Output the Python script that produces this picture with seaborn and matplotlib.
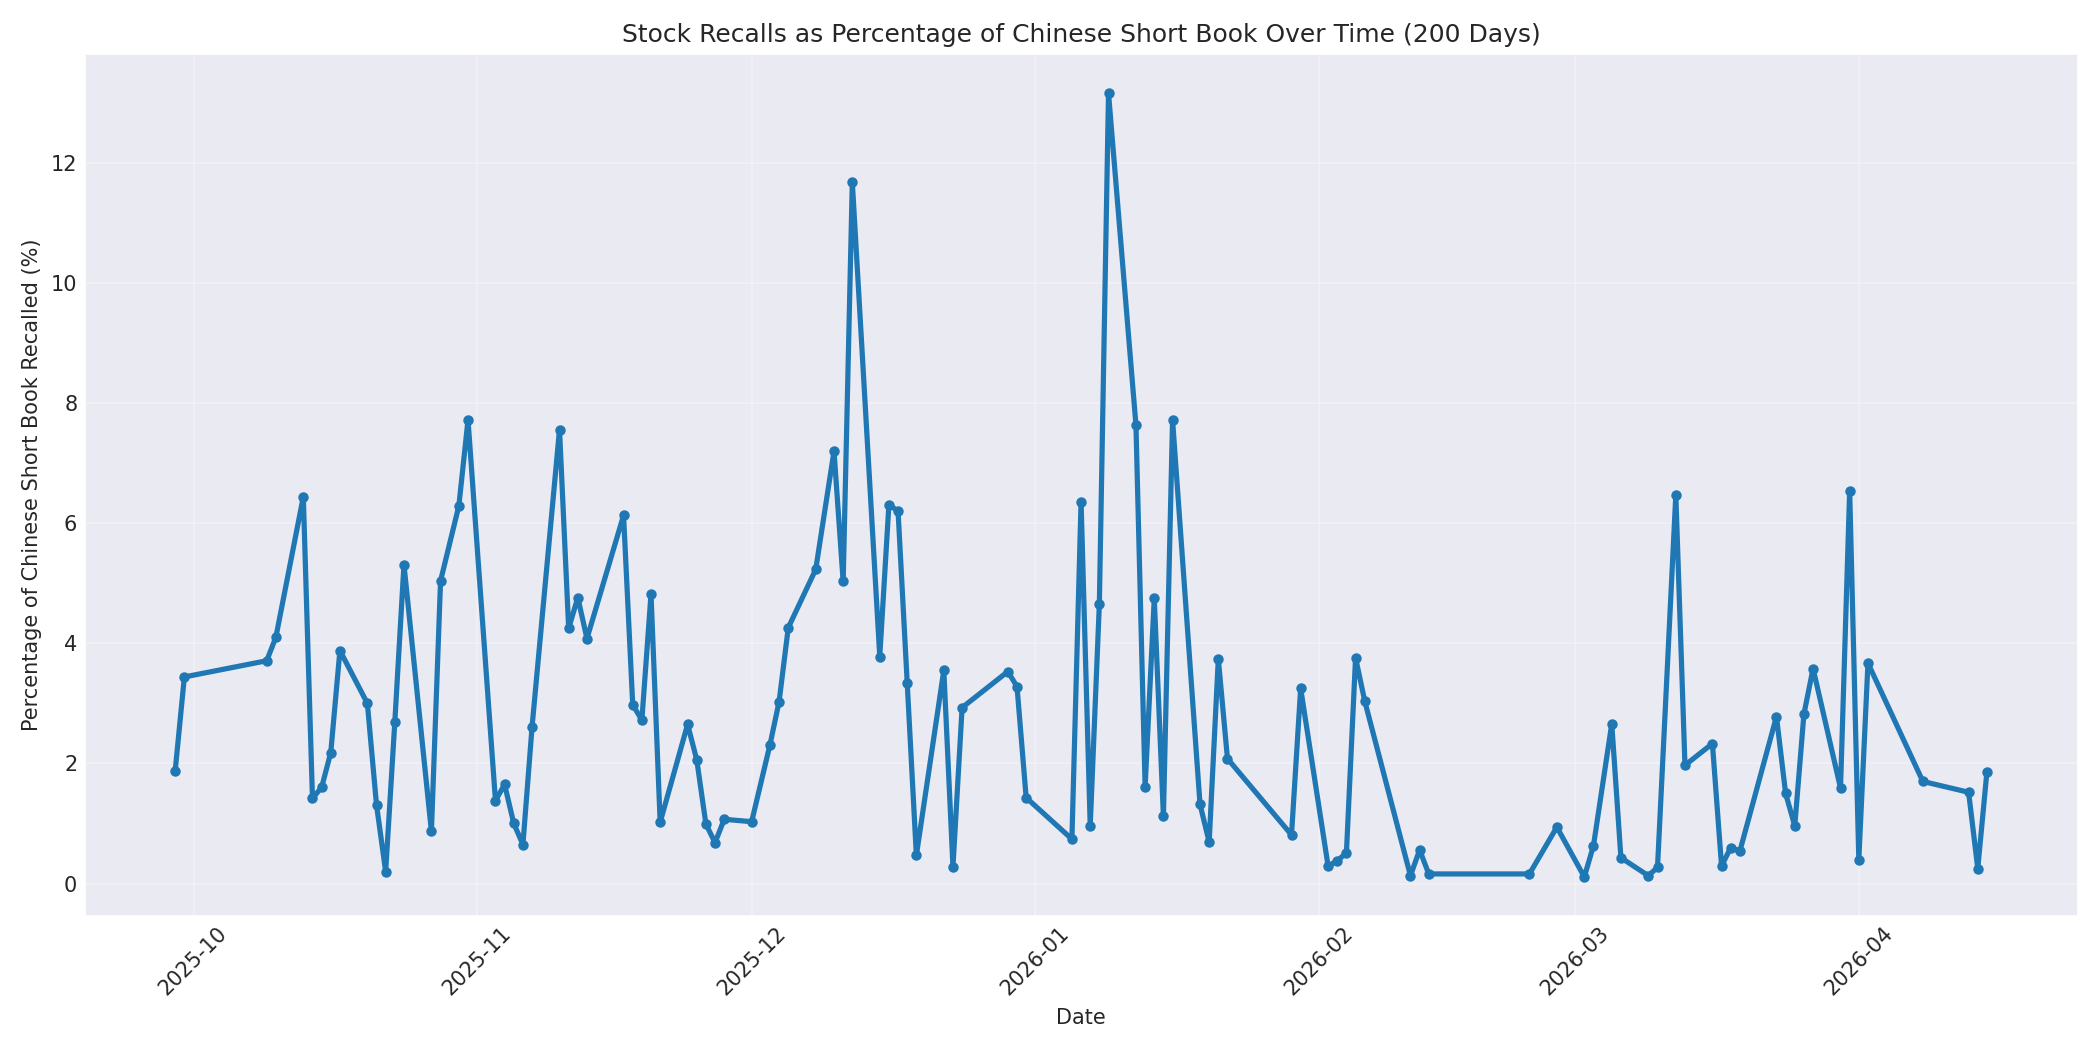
import matplotlib
matplotlib.use("Agg")
import matplotlib.pyplot as plt
import matplotlib.dates as mdates
import seaborn as sns
import pandas as pd

dates = [
    "2025-09-29", "2025-09-30", "2025-10-09", "2025-10-10", "2025-10-13", "2025-10-14",
    "2025-10-15", "2025-10-16", "2025-10-17", "2025-10-20", "2025-10-21", "2025-10-22",
    "2025-10-23", "2025-10-24", "2025-10-27", "2025-10-28", "2025-10-30", "2025-10-31",
    "2025-11-03", "2025-11-04", "2025-11-05", "2025-11-06", "2025-11-07", "2025-11-10",
    "2025-11-11", "2025-11-12", "2025-11-13", "2025-11-17", "2025-11-18", "2025-11-19",
    "2025-11-20", "2025-11-21", "2025-11-24", "2025-11-25", "2025-11-26", "2025-11-27",
    "2025-11-28", "2025-12-01", "2025-12-03", "2025-12-04", "2025-12-05", "2025-12-08",
    "2025-12-10", "2025-12-11", "2025-12-12", "2025-12-15", "2025-12-16", "2025-12-17",
    "2025-12-18", "2025-12-19", "2025-12-22", "2025-12-23", "2025-12-24", "2025-12-29",
    "2025-12-30", "2025-12-31", "2026-01-05", "2026-01-06", "2026-01-07", "2026-01-08",
    "2026-01-09", "2026-01-12", "2026-01-13", "2026-01-14", "2026-01-15", "2026-01-16",
    "2026-01-19", "2026-01-20", "2026-01-21", "2026-01-22", "2026-01-29", "2026-01-30",
    "2026-02-02", "2026-02-03", "2026-02-04", "2026-02-05", "2026-02-06", "2026-02-11",
    "2026-02-12", "2026-02-13", "2026-02-24", "2026-02-27", "2026-03-02", "2026-03-03",
    "2026-03-05", "2026-03-06", "2026-03-09", "2026-03-10", "2026-03-12", "2026-03-13",
    "2026-03-16", "2026-03-17", "2026-03-18", "2026-03-19", "2026-03-23", "2026-03-24",
    "2026-03-25", "2026-03-26", "2026-03-27", "2026-03-30", "2026-03-31", "2026-04-01",
    "2026-04-02", "2026-04-08", "2026-04-13", "2026-04-14", "2026-04-15",
]

recall_pct = [
    1.88, 3.44, 3.71, 4.10, 6.44, 1.42,
    1.60, 2.18, 3.88, 3.00, 1.31, 0.20,
    2.69, 5.31, 0.87, 5.04, 6.29, 7.72,
    1.38, 1.65, 1.00, 0.65, 2.61, 7.56,
    4.25, 4.76, 4.08, 6.13, 2.98, 2.72,
    4.82, 1.02, 2.65, 2.06, 0.99, 0.68,
    1.07, 1.03, 2.31, 3.03, 4.26, 5.23,
    7.20, 5.03, 11.68, 3.78, 6.31, 6.20,
    3.34, 0.47, 3.55, 0.28, 2.93, 3.53,
    3.28, 1.43, 0.74, 6.36, 0.96, 4.66,
    13.16, 7.63, 1.61, 4.75, 1.12, 7.72,
    1.32, 0.69, 3.74, 2.08, 0.81, 3.25,
    0.29, 0.38, 0.51, 3.76, 3.04, 0.13,
    0.56, 0.16, 0.16, 0.94, 0.11, 0.63,
    2.66, 0.43, 0.13, 0.27, 6.47, 1.97,
    2.33, 0.29, 0.60, 0.54, 2.78, 1.50,
    0.96, 2.82, 3.58, 1.59, 6.54, 0.40,
    3.67, 1.70, 1.52, 0.25, 1.86,
]

df = pd.DataFrame({"Date": pd.to_datetime(dates), "Recall": recall_pct})

sns.set_style("darkgrid")
plt.rcParams["font.family"] = ["DejaVu Sans"]

fig, ax = plt.subplots(figsize=(14, 7), dpi=150)
sns.lineplot(data=df, x="Date", y="Recall", ax=ax, color="#1f77b4",
             linewidth=2.5, marker="o", markersize=4,
             markeredgewidth=1, markeredgecolor="#1f77b4")

ax.set_title("Stock Recalls as Percentage of Chinese Short Book Over Time (200 Days)", fontsize=12)
ax.set_xlabel("Date", fontsize=10)
ax.set_ylabel("Percentage of Chinese Short Book Recalled (%)", fontsize=10)
ax.xaxis.set_major_locator(mdates.MonthLocator())
ax.xaxis.set_major_formatter(mdates.DateFormatter("%Y-%m"))
ax.tick_params(axis="both", labelsize=10, length=0, pad=3.5)
plt.setp(ax.get_xticklabels(), rotation=45)
ax.grid(True, alpha=0.3)

fig.tight_layout()
fig.savefig("out.png", dpi=150)
